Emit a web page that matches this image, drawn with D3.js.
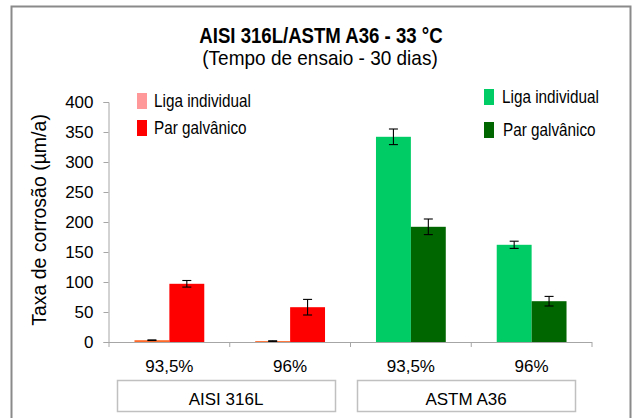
<!DOCTYPE html>
<html>
<head>
<meta charset="utf-8">
<script src="https://cdn.jsdelivr.net/npm/d3@7"></script>
<style>
  html, body { margin: 0; padding: 0; background: #fff; }
  svg { display: block; font-family: "Liberation Sans", Arial, sans-serif; }
</style>
</head>
<body>
<svg id="chart" width="633" height="418"></svg>
<script>
// Concentration categories and alloy groups
const categories = ["93,5%", "96%", "93,5%", "96%"];
const groupOf = [0, 0, 1, 1];
const groups = ["AISI 316L", "ASTM A36"];
const seriesNames = ["Liga individual", "Par galvânico"];

// Corrosion rates (µm/a) and their deviations
const ligaIndividual = [3, 1.5, 342, 162];
const ligaIndividualErr = [0.5, 0.5, 13, 6];
const parGalvanico = [97, 58, 192, 68];
const parGalvanicoErr = [5.5, 13, 13, 8];

const yTicks = [0, 50, 100, 150, 200, 250, 300, 350, 400];

// Colours per alloy group: [individual bar, galvanic bar]
const barColors = [["#FF6A2A", "#FF0000"], ["#00CC66", "#006600"]];
const legendColors = [["#FF9999", "#FF0000"], ["#00CC66", "#006600"]];

const svg = d3.select("#chart");
const plot = { left: 109, right: 592, top: 102, bottom: 342 };

// Text helper: places a label with an optional vertical stretch
function label(x, y, str, size, opts = {}) {
  return svg.append("text")
    .attr("transform", `translate(${x},${y}) scale(1,${opts.sy || 1})`)
    .attr("text-anchor", opts.anchor || "middle")
    .attr("font-size", size)
    .attr("font-weight", opts.bold ? "bold" : null)
    .attr("fill", "#000")
    .text(str);
}

// Outer frame
svg.append("path")
  .attr("d", "M11.5,430 V6.5 H630.5 V430")
  .attr("fill", "none").attr("stroke", "#8a8a8a").attr("stroke-width", 2);

// Titles
label(321, 43, "AISI 316L/ASTM A36 - 33 °C", 18.6, { bold: true, sy: 1.14 });
label(320, 65, "(Tempo de ensaio - 30 dias)", 19, { sy: 1.1 });

const x = d3.scaleBand().domain(d3.range(categories.length))
  .range([plot.left, plot.right]).paddingInner(0).paddingOuter(0);
const xs = d3.scaleBand().domain([0, 1]).range([0, x.bandwidth()]).paddingOuter(0.73);
const y = d3.scaleLinear().domain([0, 400]).range([plot.bottom, plot.top]);

// Y axis
const yAxis = svg.append("g").attr("transform", `translate(${plot.left - 0.5},0)`)
  .call(d3.axisLeft(y).tickValues(yTicks).tickSize(5).tickPadding(10));
yAxis.select(".domain").attr("stroke", "#a6a6a6");
yAxis.selectAll(".tick line").attr("stroke", "#a6a6a6");
yAxis.selectAll(".tick text").attr("font-size", 17).attr("fill", "#000")
  .attr("font-family", "Liberation Sans, Arial, sans-serif").attr("dy", "0.35em");

svg.append("text")
  .attr("transform", `translate(46,220) rotate(-90)`)
  .attr("text-anchor", "middle").attr("font-size", 19.5).attr("fill", "#000")
  .text("Taxa de corrosão (µm/a)");

// Bars
const rows = categories.map((c, i) => ({
  i, g: groupOf[i],
  vals: [ligaIndividual[i], parGalvanico[i]],
  errs: [ligaIndividualErr[i], parGalvanicoErr[i]]
}));
const gCat = svg.selectAll(".cat").data(rows).enter().append("g")
  .attr("transform", d => `translate(${x(d.i)},0)`);
const bars = gCat.selectAll(".bar").data(d => d.vals.map((v, k) => ({ v, k, g: d.g, e: d.errs[k] })))
  .enter();
bars.append("rect")
  .attr("x", d => xs(d.k)).attr("width", xs.bandwidth())
  .attr("y", d => y(d.v)).attr("height", d => y(0) - y(d.v))
  .attr("fill", d => barColors[d.g][d.k]);

// Error bars
const cap = 4.5;
const eb = bars.append("g").attr("stroke", "#000").attr("stroke-width", 1.1);
const cx = d => xs(d.k) + xs.bandwidth() / 2;
eb.append("line")
  .attr("x1", cx).attr("x2", cx)
  .attr("y1", d => y(d.v + d.e)).attr("y2", d => y(Math.max(0, d.v - d.e)));
eb.append("line")
  .attr("x1", d => cx(d) - cap).attr("x2", d => cx(d) + cap)
  .attr("y1", d => y(d.v + d.e)).attr("y2", d => y(d.v + d.e));
eb.append("line")
  .attr("x1", d => cx(d) - cap).attr("x2", d => cx(d) + cap)
  .attr("y1", d => y(Math.max(0, d.v - d.e))).attr("y2", d => y(Math.max(0, d.v - d.e)));

// X axis with boundary ticks
svg.append("line").attr("x1", plot.left).attr("x2", plot.right)
  .attr("y1", plot.bottom + 0.5).attr("y2", plot.bottom + 0.5).attr("stroke", "#a6a6a6");
svg.selectAll(".xtick").data(d3.range(categories.length + 1)).enter().append("line")
  .attr("x1", i => plot.left + i * x.step()).attr("x2", i => plot.left + i * x.step())
  .attr("y1", plot.bottom).attr("y2", plot.bottom + 5).attr("stroke", "#a6a6a6");
categories.forEach((c, i) => label(x(i) + x.bandwidth() / 2, 372, c, 17));

// Group label boxes
const boxes = [{ x0: 117, x1: 335 }, { x0: 357, x1: 575 }];
groups.forEach((g, gi) => {
  svg.append("rect").attr("x", boxes[gi].x0 + 0.5).attr("y", 380.5)
    .attr("width", boxes[gi].x1 - boxes[gi].x0).attr("height", 31)
    .attr("fill", "#fff").attr("stroke", "#c0c0c0").attr("stroke-width", 1.5);
  label((boxes[gi].x0 + boxes[gi].x1) / 2, 405, g, 17);
});

// Legends
const legendPos = [
  [{ x: 137, y: 93 }, { x: 137, y: 120 }],
  [{ x: 484, y: 89 }, { x: 484, y: 122 }]
];
const legendTextDx = [17, 18];
legendPos.forEach((items, gi) => {
  items.forEach((p, k) => {
    svg.append("rect").attr("x", p.x).attr("y", p.y).attr("width", 10).attr("height", 16)
      .attr("fill", legendColors[gi][k]);
    label(p.x + legendTextDx[gi] + (gi === 1 && k === 1 ? 1 : 0), p.y + 14,
      seriesNames[k], 15.3, { anchor: "start", sy: 1.14 });
  });
});
</script>
</body>
</html>
